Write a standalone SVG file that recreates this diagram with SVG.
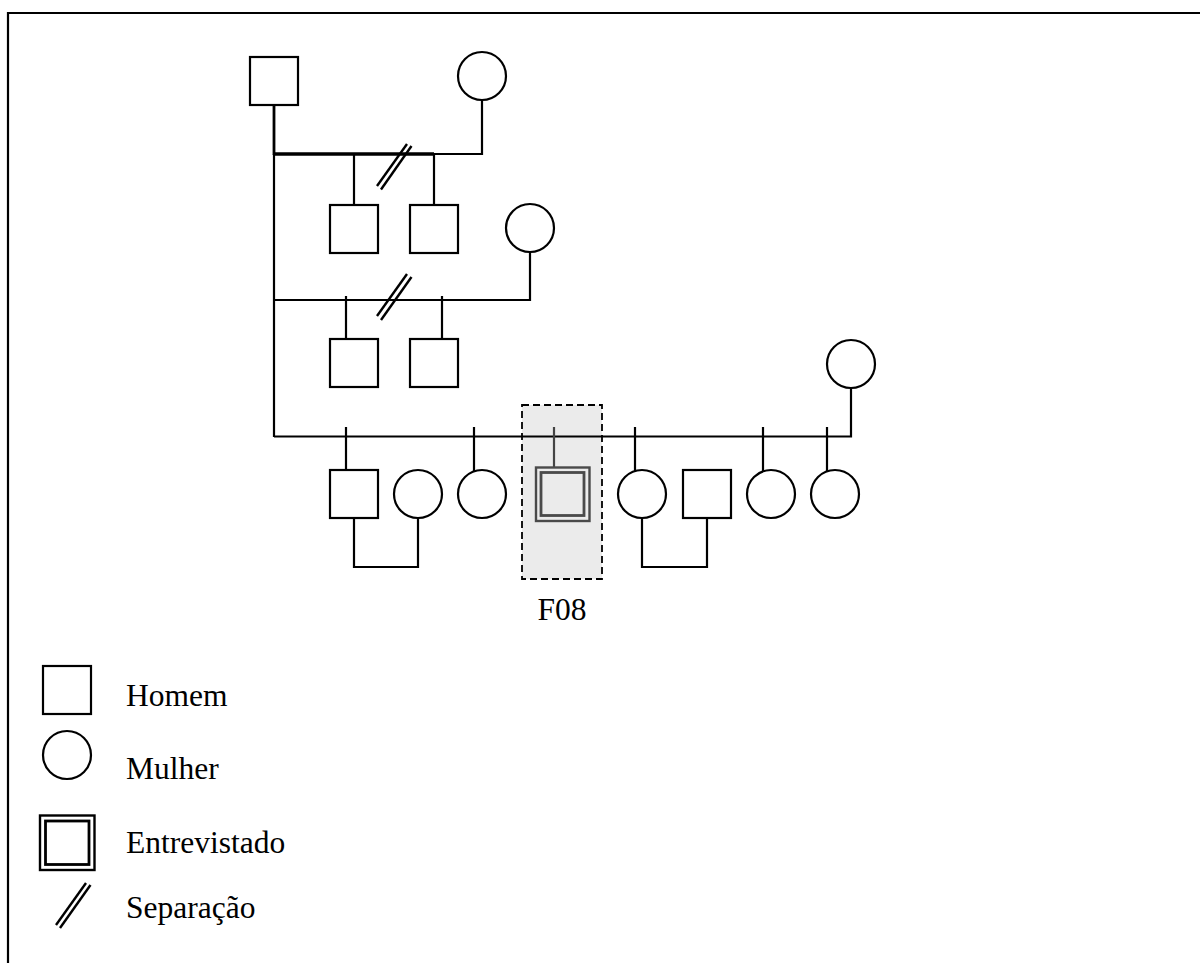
<svg xmlns="http://www.w3.org/2000/svg" width="1200" height="963" viewBox="0 0 1200 963">
  <style>
    .m { fill: #fff; stroke: #000; stroke-width: 2.2; }
    .f { fill: #fff; stroke: #000; stroke-width: 2.2; }
    .ln { fill: none; stroke: #000; stroke-width: 2.2; }
    .sep { fill: none; stroke: #000; stroke-width: 2.4; }
    .lbl { font-family: "Liberation Serif", "Times New Roman", serif; font-size: 31.5px; fill: #000; }
  </style>
  <rect x="0" y="0" width="1200" height="963" fill="#fff"/>
  <!-- outer frame -->
  <path d="M8,975 V13 H1212" fill="none" stroke="#000" stroke-width="2.2"/>

  <!-- highlight around the interviewee -->
  <rect id="highlight" x="522" y="405" width="80" height="174" fill="#ebebeb" stroke="#000" stroke-width="1.8" stroke-dasharray="7,4"/>

  <g id="connectors">
    <!-- first union -->
    <line x1="274" y1="105" x2="274" y2="155" stroke="#000" stroke-width="2.8"/>
    <line x1="274" y1="154" x2="434" y2="154" stroke="#000" stroke-width="3.4"/>
    <polyline class="ln" points="434,154 482,154 482,100"/>
    <line class="ln" x1="354" y1="154" x2="354" y2="205"/>
    <line class="ln" x1="434" y1="154" x2="434" y2="205"/>
    <line class="sep" x1="377" y1="186" x2="407" y2="144"/>
    <line class="sep" x1="381" y1="189.5" x2="411.5" y2="146"/>
    <!-- second union -->
    <line class="ln" x1="274" y1="154" x2="274" y2="437"/>
    <polyline class="ln" points="274,300 530,300 530,252"/>
    <line class="ln" x1="346" y1="296" x2="346" y2="339"/>
    <line class="ln" x1="442" y1="296" x2="442" y2="339"/>
    <line class="sep" x1="377" y1="316" x2="407" y2="274"/>
    <line class="sep" x1="381" y1="320" x2="411.5" y2="277"/>
    <!-- third union -->
    <polyline class="ln" points="274,436.5 851,436.5 851,388"/>
    <line class="ln" x1="346" y1="427" x2="346" y2="470"/>
    <line class="ln" x1="474" y1="427" x2="474" y2="472"/>
    <line x1="554" y1="427" x2="554" y2="467" stroke="#444" stroke-width="2.2"/>
    <line class="ln" x1="635" y1="427" x2="635" y2="471"/>
    <line class="ln" x1="763" y1="427" x2="763" y2="471"/>
    <line class="ln" x1="827" y1="427" x2="827" y2="471"/>
    <!-- couples of the children -->
    <polyline class="ln" points="354,518 354,567 418,567 418,518"/>
    <polyline class="ln" points="642,518 642,567 707,567 707,518"/>
  </g>

  <!-- generation I -->
  <g id="father"><rect class="m" x="250" y="57" width="48" height="48"/></g>
  <g id="mother1"><circle class="f" cx="482" cy="76" r="24"/></g>
  <g id="mother2"><circle class="f" cx="530" cy="228" r="24"/></g>
  <g id="mother3"><circle class="f" cx="851" cy="364" r="24"/></g>

  <!-- children of the first union -->
  <g id="son1"><rect class="m" x="330" y="205" width="48" height="48"/></g>
  <g id="son2"><rect class="m" x="410" y="205" width="48" height="48"/></g>

  <!-- children of the second union -->
  <g id="son3"><rect class="m" x="330" y="339" width="48" height="48"/></g>
  <g id="son4"><rect class="m" x="410" y="339" width="48" height="48"/></g>

  <!-- children of the third union -->
  <g id="son5"><rect class="m" x="330" y="470" width="48" height="48"/></g>
  <g id="spouse1"><circle class="f" cx="418" cy="494" r="24"/></g>
  <g id="daughter1"><circle class="f" cx="482" cy="494" r="24"/></g>
  <g id="interviewee">
    <rect x="536" y="467.5" width="53.5" height="53.5" fill="none" stroke="#4a4a4a" stroke-width="2.4"/>
    <rect x="541" y="472.5" width="43" height="43" fill="#ebebeb" stroke="#4a4a4a" stroke-width="2.8"/>
  </g>
  <g id="daughter2"><circle class="f" cx="642" cy="494" r="24"/></g>
  <g id="spouse2"><rect class="m" x="683" y="470" width="48" height="48"/></g>
  <g id="daughter3"><circle class="f" cx="771" cy="494" r="24"/></g>
  <g id="daughter4"><circle class="f" cx="835" cy="494" r="24"/></g>

  <text class="lbl" x="562" y="620" text-anchor="middle">F08</text>

  <!-- legend -->
  <g id="legend">
    <rect class="m" x="43" y="666" width="48" height="48"/>
    <text class="lbl" x="126" y="706">Homem</text>
    <circle class="f" cx="67" cy="755" r="24"/>
    <text class="lbl" x="126" y="779">Mulher</text>
    <rect x="40" y="815.5" width="54.5" height="54.5" fill="#fff" stroke="#000" stroke-width="2.4"/>
    <rect x="45.5" y="821" width="43.5" height="43.5" fill="none" stroke="#000" stroke-width="2.8"/>
    <text class="lbl" x="126" y="853">Entrevistado</text>
    <line class="sep" x1="56" y1="925" x2="86" y2="883"/>
    <line class="sep" x1="60" y1="928" x2="90.5" y2="885"/>
    <text class="lbl" x="126" y="918">Separação</text>
  </g>
</svg>
